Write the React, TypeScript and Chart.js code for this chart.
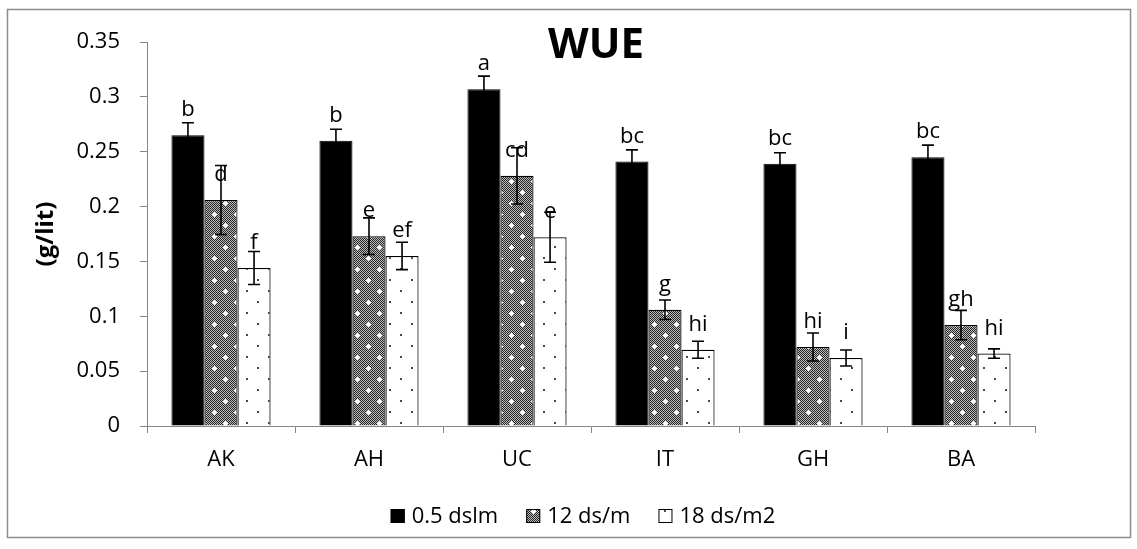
import React, { useEffect, useRef } from 'react';
import { Chart, registerables } from 'chart.js';

Chart.register(...registerables);

const categories = ['AK', 'AH', 'UC', 'IT', 'GH', 'BA'];
const seriesNames = ['0.5 dslm', '12 ds/m', '18 ds/m2'];
const values05 = [0.265, 0.26, 0.307, 0.241, 0.239, 0.245];
const errors05 = [0.0114, 0.0105, 0.0119, 0.0107, 0.01, 0.011];
const values12 = [0.206, 0.173, 0.228, 0.106, 0.072, 0.092];
const errors12 = [0.0315, 0.0167, 0.0256, 0.0089, 0.0128, 0.0134];
const values18 = [0.144, 0.155, 0.172, 0.0695, 0.062, 0.066];
const errors18 = [0.015, 0.0125, 0.0228, 0.0078, 0.0073, 0.0043];
const letters05 = ['b', 'b', 'a', 'bc', 'bc', 'bc'];
const letters12 = ['d', 'e', 'cd', 'g', 'hi', 'gh'];
const letters18 = ['f', 'ef', 'e', 'hi', 'i', 'hi'];
const yTickValues = [0, 0.05, 0.1, 0.15, 0.2, 0.25, 0.3, 0.35];
const yTickLabels = ['0', '0.05', '0.1', '0.15', '0.2', '0.25', '0.3', '0.35'];
const chartTitle = 'WUE';
const yAxisTitle = '(g/lit)';

const FONT = "'Open Sans', sans-serif";
const AXIS_GRAY = '#868686';

function makeGrayPattern(ctx: CanvasRenderingContext2D): CanvasPattern {
  const c = document.createElement('canvas');
  c.width = 22;
  c.height = 22;
  const g = c.getContext('2d')!;
  for (let y = 0; y < 22; y++) {
    for (let x = 0; x < 22; x++) {
      g.fillStyle = (x + y) % 2 === 0 ? '#262626' : '#bcbcbc';
      g.fillRect(x, y, 1, 1);
    }
  }
  g.fillStyle = '#ffffff';
  const plus = (cx: number, cy: number) => {
    g.fillRect(cx - 2, cy, 5, 1);
    g.fillRect(cx, cy - 2, 1, 5);
    g.fillRect(cx - 1, cy - 1, 3, 3);
  };
  plus(5, 5);
  plus(16, 16);
  return ctx.createPattern(c, 'repeat')!;
}

function makeDotPattern(ctx: CanvasRenderingContext2D): CanvasPattern {
  const c = document.createElement('canvas');
  c.width = 22;
  c.height = 22;
  const g = c.getContext('2d')!;
  g.fillStyle = '#ffffff';
  g.fillRect(0, 0, 22, 22);
  g.fillStyle = '#4a4a4a';
  g.fillRect(4, 4, 2, 2);
  g.fillRect(15, 15, 2, 2);
  return ctx.createPattern(c, 'repeat')!;
}

export default function App() {
  const ref = useRef<HTMLCanvasElement | null>(null);

  useEffect(() => {
    document.body.style.margin = '0';
    const canvas = ref.current!;
    const ctx = canvas.getContext('2d')!;
    const grayPat = makeGrayPattern(ctx);
    const dotPat = makeDotPattern(ctx);

    const errs = [errors05, errors12, errors18];
    const letters = [letters05, letters12, letters18];
    const fills: (string | CanvasPattern)[] = ['#000000', grayPat, dotPat];

    const errorBarPlugin = {
      id: 'errorBars',
      afterDatasetsDraw(chart: any) {
        const c = chart.ctx as CanvasRenderingContext2D;
        const ys = chart.scales.y;
        c.save();
        chart.data.datasets.forEach((ds: any, i: number) => {
          const meta = chart.getDatasetMeta(i);
          meta.data.forEach((bar: any, j: number) => {
            const v = ds.data[j];
            const e = errs[i][j];
            const x = bar.x;
            const yTop = ys.getPixelForValue(v + e);
            const yBot = ys.getPixelForValue(v - e);
            c.strokeStyle = '#000';
            c.lineWidth = 1.6;
            c.beginPath();
            c.moveTo(x, yTop);
            c.lineTo(x, yBot);
            c.moveTo(x - 6, yTop);
            c.lineTo(x + 6, yTop);
            c.moveTo(x - 6, yBot);
            c.lineTo(x + 6, yBot);
            c.stroke();
            c.fillStyle = '#000';
            c.font = `22px ${FONT}`;
            c.textAlign = 'center';
            c.textBaseline = 'alphabetic';
            c.fillText(letters[i][j], x, bar.y - 19);
          });
        });
        c.restore();
      },
    };

    const decorPlugin = {
      id: 'decor',
      afterDraw(chart: any) {
        const c = chart.ctx as CanvasRenderingContext2D;
        c.save();
        // outer border
        c.strokeStyle = '#8c8c8c';
        c.lineWidth = 1.5;
        c.strokeRect(7.5, 9.5, 1123, 528);
        // title
        c.fillStyle = '#000';
        c.font = `bold 42px ${FONT}`;
        c.textAlign = 'center';
        c.textBaseline = 'alphabetic';
        c.fillText(chartTitle, 596, 58);
        // y title
        c.save();
        const area = chart.chartArea;
        c.translate(46, (area.top + area.bottom) / 2);
        c.rotate(-Math.PI / 2);
        c.font = `bold 24px ${FONT}`;
        c.textBaseline = 'middle';
        c.textAlign = 'center';
        c.fillText(yAxisTitle, 0, 0);
        c.restore();
        // legend
        c.font = `22px ${FONT}`;
        const box = 14;
        const gapText = 7;
        const gapItem = 28;
        const widths = seriesNames.map((n) => box + gapText + c.measureText(n).width);
        const total = widths.reduce((a, b) => a + b, 0) + gapItem * (seriesNames.length - 1);
        let x = 583 - total / 2;
        const boxTop = 509;
        seriesNames.forEach((n, i) => {
          c.fillStyle = fills[i] as any;
          c.fillRect(x, boxTop, box, box);
          c.strokeStyle = '#000';
          c.lineWidth = 1;
          c.strokeRect(x + 0.5, boxTop + 0.5, box - 1, box - 1);
          c.fillStyle = '#000';
          c.textAlign = 'left';
          c.textBaseline = 'alphabetic';
          c.fillText(n, x + box + gapText, 522.5);
          x += widths[i] + gapItem;
        });
        c.restore();
      },
    };

    const chart = new Chart(canvas, {
      type: 'bar',
      data: {
        labels: categories,
        datasets: [
          { label: seriesNames[0], data: values05, backgroundColor: '#000000', borderColor: '#000', borderWidth: 1 },
          { label: seriesNames[1], data: values12, backgroundColor: grayPat as any, borderColor: '#000', borderWidth: 1.2 },
          { label: seriesNames[2], data: values18, backgroundColor: dotPat as any, borderColor: '#000', borderWidth: 1.2 },
        ],
      },
      options: {
        responsive: false,
        animation: false,
        devicePixelRatio: 1,
        layout: { padding: { left: 0, right: 102, top: 42, bottom: 0 } },
        datasets: { bar: { categoryPercentage: 0.67, barPercentage: 1 } } as any,
        plugins: {
          legend: { display: false },
          title: { display: false },
          tooltip: { enabled: false },
        },
        scales: {
          x: {
            type: 'category',
            offset: true,
            grid: {
              offset: true,
              drawOnChartArea: false,
              drawTicks: true,
              tickLength: 7,
              color: AXIS_GRAY,
            },
            border: { display: true, color: AXIS_GRAY, width: 1 },
            ticks: { color: '#000', font: { family: FONT, size: 22 }, padding: 14, maxRotation: 0 },
            afterFit: (s: any) => {
              s.height = 123;
            },
          },
          y: {
            type: 'linear',
            min: 0,
            max: 0.35,
            grid: {
              drawOnChartArea: false,
              drawTicks: true,
              tickLength: 7,
              color: AXIS_GRAY,
            },
            border: { display: true, color: AXIS_GRAY, width: 1 },
            ticks: {
              color: '#000',
              font: { family: FONT, size: 22 },
              padding: 20,
              autoSkip: false,
              callback: (v: any) => {
                const idx = yTickValues.findIndex((t) => Math.abs(t - Number(v)) < 1e-9);
                return idx >= 0 ? yTickLabels[idx] : '';
              },
            },
            afterBuildTicks: (s: any) => {
              s.ticks = yTickValues.map((v) => ({ value: v }));
            },
            afterFit: (s: any) => {
              s.width = 147;
            },
          },
        },
      },
      plugins: [errorBarPlugin, decorPlugin],
    });

    return () => {
      chart.destroy();
    };
  }, []);

  return (
    <div style={{ width: 1137, height: 549, background: '#fff' }}>
      <canvas ref={ref} width={1137} height={549} style={{ display: 'block', width: 1137, height: 549 }} />
    </div>
  );
}
